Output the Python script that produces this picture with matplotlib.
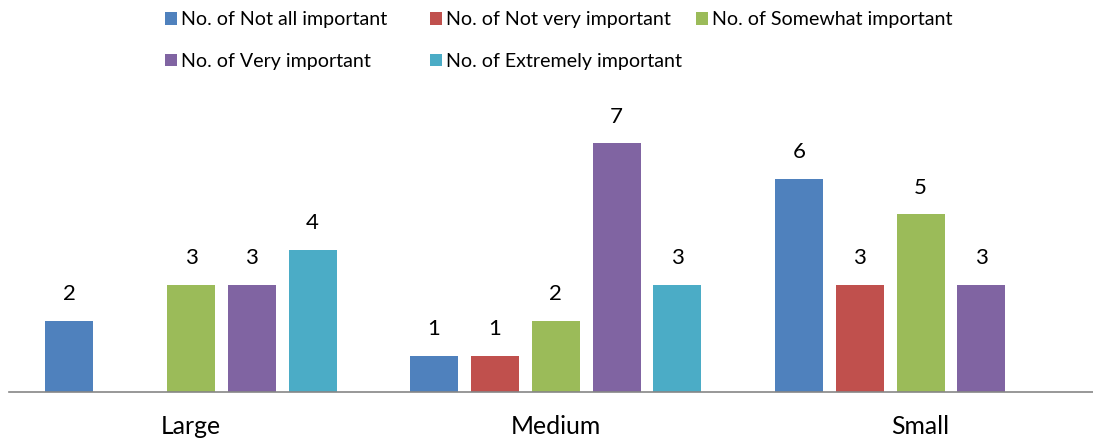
import numpy as np
import matplotlib
matplotlib.use("Agg")
import matplotlib.pyplot as plt

categories = ["Large", "Medium", "Small"]
series_names = ["No. of Not all important", "No. of Not very important",
                "No. of Somewhat important", "No. of Very important",
                "No. of Extremely important"]
not_all = [2, 1, 6]
not_very = [np.nan, 1, 3]
somewhat = [3, 2, 5]
very = [3, 7, 3]
extremely = [4, 3, np.nan]
series_values = [not_all, not_very, somewhat, very, extremely]
colors = ["#4F81BD", "#C0504D", "#9BBB59", "#8064A2", "#4BACC6"]

plt.rcParams['font.family'] = ['Lato', 'DejaVu Sans']

W, H = 1093, 442
fig = plt.figure(figsize=(W / 100, H / 100), dpi=100)
ax_left, ax_right = 8.6, 1102.9
ax_bottom, ax_top = 391.5, 107.9
ax = fig.add_axes([ax_left / W, (H - ax_bottom) / H,
                   (ax_right - ax_left) / W, (ax_bottom - ax_top) / H])

x = np.arange(len(categories))
step = 0.1667
width = 0.1316
containers = []
for i, (vals, col, name) in enumerate(zip(series_values, colors, series_names)):
    c = ax.bar(x + (i - 2) * step, vals, width, color=col, label=name)
    containers.append(c)
    for rect, v in zip(c.patches, vals):
        if np.isnan(v):
            continue
        ax.annotate(f"{int(v)}", (rect.get_x() + rect.get_width() / 2, rect.get_height()),
                    xytext=(0, 19.2), textcoords="offset points",
                    ha="center", va="center", fontsize=16)

ax.set_xlim(-0.5, 2.5)
ax.set_ylim(0, 8)
ax.set_xticks(x)
ax.set_xticklabels(categories, fontsize=17.8)
ax.tick_params(axis="x", length=0, pad=17)
ax.set_yticks([])
for s in ["top", "right", "left"]:
    ax.spines[s].set_visible(False)
ax.spines["bottom"].set_color("#868686")
ax.spines["bottom"].set_linewidth(1.2)

# legend: three columns laid out as in the reference
col_x = [165, 430, 696]
columns = [[0, 3], [1, 4], [2]]
for cx, idxs in zip(col_x, columns):
    leg = fig.legend([containers[k] for k in idxs], [series_names[k] for k in idxs],
                     loc="upper left", bbox_to_anchor=(cx / W, 1 - 11.5 / H),
                     frameon=False, fontsize=14.1, borderpad=0, borderaxespad=0,
                     handlelength=0.61, handleheight=0.61, handletextpad=0.21,
                     labelspacing=1.24)

fig.savefig("out.png", dpi=100)
